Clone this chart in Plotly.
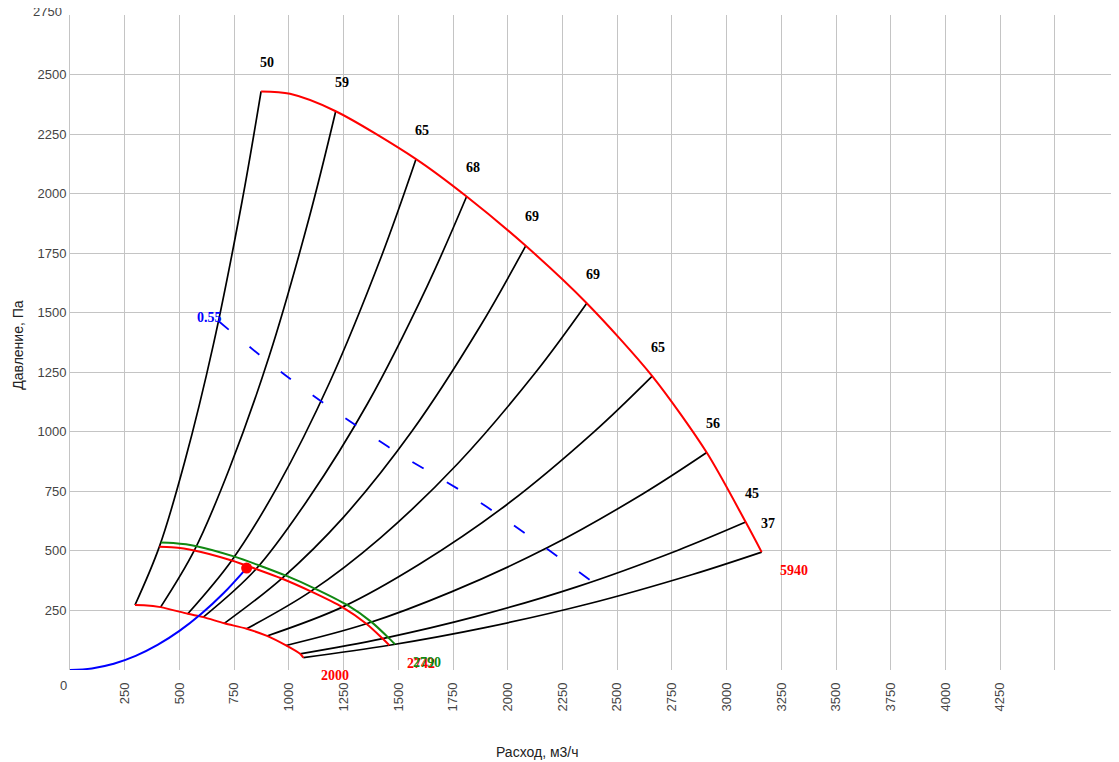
import plotly.graph_objects as go

# ---------------- data ----------------
# outer (max speed) curve, 5940
MAX_X = [873, 1005, 1214, 1581, 1812, 2082, 2361, 2660, 2909, 3087, 3160]
MAX_Y = [2429, 2419, 2346, 2145, 1988, 1781, 1540, 1234, 913, 621, 495]
# lower (min speed) curve, 2000
MIN_X = [297, 338, 414, 538, 609, 705, 807, 900, 987, 1051, 1066]
MIN_Y = [273, 272, 264, 236, 222, 196, 173, 143, 103, 68, 52]
# operating speed curve (red), 2742
OP_X = [408, 464, 568, 739, 850, 967, 1100, 1244, 1354, 1428, 1459]
OP_Y = [517, 515, 502, 460, 424, 384, 330, 264, 194, 132, 104]
# second speed curve (green), 2790
OP2_X = [415, 472, 578, 752, 865, 984, 1119, 1266, 1378, 1453, 1485]
OP2_Y = [535, 533, 520, 476, 439, 397, 342, 273, 201, 137, 108]

# constant-efficiency rays (black), bottom -> top
RAY_X = [
    [297, 408, 524, 655, 786, 873],
    [414, 568, 728, 911, 1093, 1214],
    [538, 739, 949, 1186, 1423, 1581],
    [609, 850, 1087, 1359, 1631, 1812],
    [705, 967, 1249, 1562, 1874, 2082],
    [807, 1100, 1417, 1771, 2125, 2361],
    [900, 1244, 1596, 1995, 2394, 2660],
    [987, 1354, 1745, 2182, 2618, 2909],
    [1051, 1428, 1852, 2315, 2778, 3087],
    [1066, 1459, 1896, 2370, 2844, 3160],
]
RAY_Y = [
    [273, 517, 874, 1366, 1967, 2429],
    [264, 502, 845, 1320, 1900, 2346],
    [236, 460, 772, 1207, 1737, 2145],
    [222, 424, 716, 1118, 1610, 1988],
    [196, 384, 641, 1002, 1443, 1781],
    [173, 330, 554, 866, 1247, 1540],
    [143, 264, 444, 694, 1000, 1234],
    [103, 194, 329, 514, 740, 913],
    [68, 132, 224, 349, 503, 621],
    [52, 104, 178, 278, 401, 495],
]
RAY_LABELS = ["50", "59", "65", "68", "69", "69", "65", "56", "45", "37"]

# system curve (blue)
SYS_X = [0, 100, 200, 300, 400, 500, 600, 700, 807]
SYS_Y = [0, 6.6, 26, 59, 105, 164, 236, 321, 428]
OP_POINT = (807, 428)

# efficiency 0.55 line (blue dashed)
EFF_X = [678, 1004, 1454, 1902, 2384]
EFF_Y = [1465, 1224, 937, 686, 372]
EFF_LABEL = "0.55"

X_TICKS = [250, 500, 750, 1000, 1250, 1500, 1750, 2000, 2250, 2500, 2750,
           3000, 3250, 3500, 3750, 4000, 4250, 4500]
X_TICKTEXT = [str(v) for v in X_TICKS[:-1]] + [""]
Y_TICKS = [250, 500, 750, 1000, 1250, 1500, 1750, 2000, 2250, 2500, 2750]
Y_TICKTEXT = [str(v) for v in Y_TICKS[:-1]] + [""]   # top label drawn separately (clipped)
Y_TOP_LABEL = str(Y_TICKS[-1])

SPEED_MAX, SPEED_MIN, SPEED_OP, SPEED_OP2 = "5940", "2000", "2742", "2790"

# ---------------- figure ----------------
fig = go.Figure()

for xs, ys in zip(RAY_X, RAY_Y):
    fig.add_trace(go.Scatter(x=xs, y=ys, mode="lines",
                             line=dict(color="black", width=1.7, shape="spline"),
                             hoverinfo="skip"))

fig.add_trace(go.Scatter(x=EFF_X, y=EFF_Y, mode="lines",
                         line=dict(color="#0000ff", width=1.8, dash="13px,27px", shape="spline"),
                         hoverinfo="skip"))

for xs, ys, col in [(MAX_X, MAX_Y, "#ff0000"), (MIN_X, MIN_Y, "#ff0000"),
                    (OP2_X, OP2_Y, "#118811"), (OP_X, OP_Y, "#ff0000")]:
    fig.add_trace(go.Scatter(x=xs, y=ys, mode="lines",
                             line=dict(color=col, width=2, shape="spline", smoothing=0.8),
                             hoverinfo="skip"))

fig.add_trace(go.Scatter(x=SYS_X, y=SYS_Y, mode="lines",
                         line=dict(color="#0000ff", width=2, shape="spline"),
                         hoverinfo="skip"))
fig.add_trace(go.Scatter(x=[OP_POINT[0]], y=[OP_POINT[1]], mode="markers",
                         marker=dict(color="#ff0000", size=11), hoverinfo="skip"))

lab_font = dict(family="Liberation Serif", size=14, color="black")
ann = []
for xs, ys, t in zip(RAY_X, RAY_Y, RAY_LABELS):
    ann.append(dict(x=xs[-1], y=ys[-1], text="<b>%s</b>" % t, showarrow=False,
                    xanchor="center", yanchor="middle",
                    xshift=6, yshift=29, font=lab_font))

def end_label(x, y, t, col):
    return dict(x=x, y=y, text="<b>%s</b>" % t, showarrow=False, xshift=32, yshift=-18,
                xanchor="center", yanchor="middle",
                font=dict(family="Liberation Serif", size=14, color=col))

ann.append(end_label(MAX_X[-1], MAX_Y[-1], SPEED_MAX, "#ff0000"))
ann.append(end_label(MIN_X[-1], MIN_Y[-1], SPEED_MIN, "#ff0000"))
ann.append(end_label(OP_X[-1], OP_Y[-1], SPEED_OP, "#ff0000"))
ann.append(end_label(OP2_X[-1], OP2_Y[-1], SPEED_OP2, "#118811"))
ann.append(dict(x=EFF_X[0], y=EFF_Y[0], text="<b>%s</b>" % EFF_LABEL, showarrow=False,
                xanchor="center", yanchor="middle", xshift=-9, yshift=4,
                font=dict(family="Liberation Serif", size=14, color="#0000ff")))

# axis titles, the lone "0" and the clipped top y label
ann.append(dict(xref="paper", yref="paper", x=0, y=0, text="0", showarrow=False,
                xanchor="center", yanchor="middle", xshift=-7, yshift=-15,
                font=dict(family="Liberation Sans", size=13, color="#444")))
ann.append(dict(xref="paper", yref="paper", x=0, y=1, text=Y_TOP_LABEL, showarrow=False,
                xanchor="right", yanchor="middle", xshift=-6, yshift=4,
                font=dict(family="Liberation Sans", size=13, color="#444")))
ann.append(dict(xref="paper", yref="paper", x=0.4457, y=0, text="Расход, м3/ч", showarrow=False,
                xanchor="center", yanchor="middle", yshift=-82,
                font=dict(family="Liberation Sans", size=14, color="#222")))
ann.append(dict(xref="paper", yref="paper", x=0, y=0.4966, text="Давление, Па", showarrow=False,
                xanchor="center", yanchor="middle", textangle=-90, xshift=-52,
                font=dict(family="Liberation Sans", size=14, color="#222")))

# page body adds an 8px offset; figure sized so the plot area lands at x 70..1119, y 15..670
fig.update_layout(
    width=1111, height=754,
    margin=dict(l=62, r=0, t=7, b=92, autoexpand=False),
    paper_bgcolor="white", plot_bgcolor="white",
    showlegend=False,
    annotations=ann,
    xaxis=dict(range=[0, 4792.6], tickvals=X_TICKS, ticktext=X_TICKTEXT, tickangle=-90,
               showgrid=True, gridcolor="#c4c4c4", gridwidth=1, zeroline=False,
               showline=False, ticks="", ticklabelstandoff=9, automargin=False,
               tickfont=dict(family="Liberation Sans", size=13, color="#444")),
    yaxis=dict(range=[0, 2750], tickvals=Y_TICKS, ticktext=Y_TICKTEXT, showgrid=True,
               gridcolor="#c4c4c4", gridwidth=1, zeroline=False, showline=True,
               linecolor="#c4c4c4", linewidth=1, ticks="", automargin=False,
               tickfont=dict(family="Liberation Sans", size=13, color="#444")),
)

fig.write_html("out.html")
